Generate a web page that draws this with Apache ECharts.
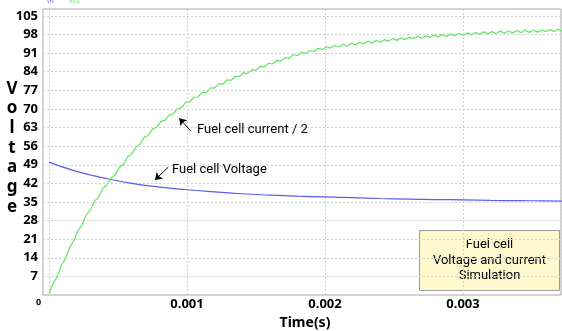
<!DOCTYPE html>
<html><head><meta charset="utf-8">
<script src="https://cdn.jsdelivr.net/npm/echarts@6/dist/echarts.min.js"></script>
<style>html,body{margin:0;padding:0;background:#fff}#c{width:562px;height:331px}</style>
</head><body><div id="c"></div>
<script>
// ---- data ----
const yTickLabels = [7, 14, 21, 28, 35, 42, 49, 56, 63, 70, 77, 84, 91, 98, 105];
const xTickLabels = [0.001, 0.002, 0.003];
const seriesNames = ['Vfc', 'Ifc/2'];
// Fuel cell voltage, sampled every 0.2 ms from t = 0
const voltageStep = 0.0002;
const voltage = [50.0, 46.5, 44.0, 42.0, 40.6, 39.6, 38.8, 38.1, 37.6, 37.2,
  36.9, 36.6, 36.3, 36.1, 35.9, 35.8, 35.6, 35.5, 35.4, 35.3];
// Fuel cell current / 2, sampled every 0.03 ms from t = 0 (ripple peaks and troughs)
const currentStep = 0.00003;
const currentHalf = [0.5, 4.4, 7.0, 11.2, 13.8, 17.9, 20.4, 24.3, 26.4, 30.0,
  32.1, 35.3, 36.9, 40.1, 41.4, 44.1, 45.3, 48.0, 49.2, 51.9,
  53.1, 55.7, 56.7, 59.3, 60.1, 62.4, 63.1, 65.3, 65.7, 67.7,
  68.1, 70.1, 70.5, 72.5, 72.7, 74.4, 74.5, 76.2, 76.2, 77.9,
  77.9, 79.4, 79.4, 80.9, 80.8, 82.3, 82.2, 83.6, 83.4, 84.8,
  84.6, 86.0, 85.8, 87.2, 86.9, 88.3, 88.0, 89.3, 89.0, 90.4,
  90.1, 91.3, 90.9, 92.0, 91.6, 92.8, 92.4, 93.4, 92.9, 93.9,
  93.3, 94.3, 93.7, 94.7, 94.1, 95.1, 94.5, 95.5, 94.8, 95.8,
  95.2, 96.1, 95.5, 96.5, 95.8, 96.7, 96.1, 97.0, 96.4, 97.3,
  96.6, 97.5, 96.9, 97.8, 97.1, 98.0, 97.3, 98.2, 97.5, 98.4,
  97.7, 98.6, 97.9, 98.8, 98.0, 99.0, 98.2, 99.1, 98.4, 99.3,
  98.5, 99.4, 98.6, 99.5, 98.7, 99.6, 98.8, 99.7, 98.9, 99.8,
  99.1, 99.9, 99.1, 100.0, 99.2];
// annotation anchors in data units [time s, value]
const currentArrow = [[0.001027, 61.7], [0.000944, 66.5]];
const currentNote = [0.001072, 62.1];
const voltageArrow = [[0.000864, 48.1], [0.000768, 43.3]];
const voltageNote = [0.000891, 47.0];

// ---- chart ----
const chart = echarts.init(document.getElementById('c'), null, {renderer: 'canvas'});
const Y_MAX = 107.6, X_MAX = 0.00371;
const tickFont = {fontFamily: 'Noto Sans', fontWeight: 'bold', fontSize: 13, color: '#000'};
const noteFont = {fontFamily: 'Roboto', fontSize: 13, color: '#000'};
const blueColor = '#5c5cf2', greenColor = '#62e562';

const vData = voltage.map((v, i) => [i * voltageStep, v]);
const iData = currentHalf.map((v, i) => [i * currentStep, v]);

function arrow(pair) {
  return {
    silent: true, symbol: ['none', 'arrow'], symbolSize: 7, animation: false,
    lineStyle: {color: '#000', width: 1, type: 'solid'}, label: {show: false},
    data: [[{coord: pair[0]}, {coord: pair[1]}]]
  };
}
function note(coord, text) {
  return {
    silent: true, symbol: 'circle', symbolSize: 0, animation: false,
    label: {show: true, position: 'right', distance: 0, formatter: text, ...noteFont},
    data: [{coord: coord}]
  };
}

chart.setOption({
  animation: false,
  backgroundColor: '#fff',
  legend: {
    left: 42, top: -1, padding: 0, itemGap: 10, itemWidth: 0, itemHeight: 0, icon: 'none',
    selectedMode: false,
    textStyle: {fontSize: 5, fontFamily: 'Noto Sans'},
    data: [{name: seriesNames[0], textStyle: {color: blueColor}}, {name: seriesNames[1], textStyle: {color: greenColor}}]
  },
  grid: [
    {left: 43, right: 1, top: 9, bottom: 36, show: true, borderColor: '#a8a8a8', borderWidth: 1, backgroundColor: 'transparent', containLabel: false, outerBoundsMode: 'none'},
    {left: 49, right: 1, top: 9, bottom: 36, containLabel: false, outerBoundsMode: 'none'}
  ],
  xAxis: [
    {gridIndex: 0, type: 'value', min: 0, max: 1, show: false},
    {gridIndex: 1, type: 'value', min: 0, max: X_MAX, interval: 0.001,
      axisLine: {show: false}, axisTick: {show: false},
      axisLabel: {...tickFont, margin: 3, showMaxLabel: false,
        formatter: v => { const s = v.toFixed(3); return xTickLabels.some(t => t.toFixed(3) === s) ? s : ''; }},
      splitLine: {show: true, lineStyle: {color: '#cfcfcf', type: [2, 2], width: 1}},
      name: 'Time(s)', nameLocation: 'middle', nameGap: 17,
      nameTextStyle: {fontFamily: 'Noto Sans', fontWeight: 'bold', fontSize: 14, color: '#000'}}
  ],
  yAxis: [
    {gridIndex: 0, type: 'value', min: 0, max: Y_MAX, interval: 7,
      axisLine: {show: false}, axisTick: {show: false},
      axisLabel: {...tickFont, margin: 5, formatter: v => yTickLabels.includes(Math.round(v * 1000) / 1000) ? String(Math.round(v)) : ''},
      splitLine: {show: true, lineStyle: {color: '#cfcfcf', type: [2, 2], width: 1}}},
    {gridIndex: 1, type: 'value', min: 0, max: Y_MAX, show: false, splitLine: {show: false}}
  ],
  graphic: [
    {type: 'text', left: 36, top: 298, style: {text: '0', font: 'bold 9px "Noto Sans"', fill: '#000'}},
    {type: 'text', x: 12, y: 79, style: {text: 'V\no\nl\nt\na\ng\ne', font: 'bold 17px "Noto Sans"', fill: '#000', align: 'center', verticalAlign: 'top', lineHeight: 19.7}},
    {type: 'group', left: 419, top: 230, children: [
      {type: 'rect', shape: {x: 0, y: 0, width: 140, height: 60}, style: {fill: '#fff8cc', stroke: '#9a9a9a', lineWidth: 1}},
      {type: 'text', x: 70, y: 30, style: {text: 'Fuel cell\nVoltage and current\nSimulation', font: '13px Roboto', fill: '#000', align: 'center', verticalAlign: 'middle', lineHeight: 15.5}}
    ]}
  ],
  series: [
    {name: seriesNames[0], type: 'line', xAxisIndex: 1, yAxisIndex: 1, data: vData, smooth: true, showSymbol: false,
      lineStyle: {color: blueColor, width: 1.2}, itemStyle: {color: blueColor},
      markLine: arrow(voltageArrow), markPoint: note(voltageNote, 'Fuel cell Voltage')},
    {name: seriesNames[1], type: 'line', xAxisIndex: 1, yAxisIndex: 1, data: iData, showSymbol: false,
      lineStyle: {color: greenColor, width: 1.2}, itemStyle: {color: greenColor},
      markLine: arrow(currentArrow), markPoint: note(currentNote, 'Fuel cell current / 2')}
  ]
});
</script></body></html>
